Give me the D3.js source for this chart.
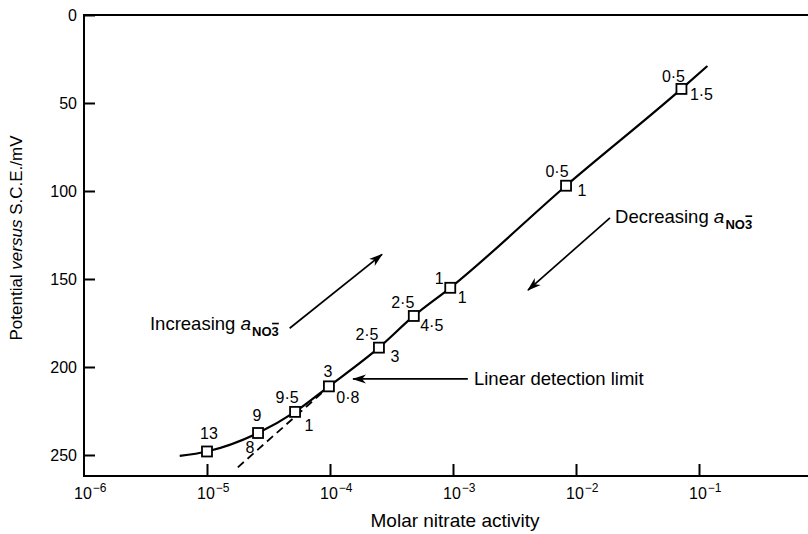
<!DOCTYPE html>
<html>
<head>
<meta charset="utf-8">
<script src="https://cdn.jsdelivr.net/npm/d3@7"></script>
<style>
  body { margin: 0; background: #fff; }
  svg { display: block; font-family: "Liberation Sans", Arial, Helvetica, sans-serif; }
</style>
</head>
<body>
<svg id="chart" width="808" height="534"></svg>
<script>
// Nitrate ISE calibration: potential vs. S.C.E. against molar nitrate activity
const activity  = [1.0e-5, 2.6e-5, 5.2e-5, 9.8e-5, 2.5e-4, 4.8e-4, 9.5e-4, 8.3e-3, 7.2e-2];
const potential = [248, 237.5, 225.5, 211, 189, 171, 155, 97, 42];
// response times: increasing activity (upper label) and decreasing activity (lower label)
const timeIncreasing = ["13", "9", "9·5", "3", "2·5", "2·5", "1", "0·5", "0·5"];
const timeDecreasing = ["", "8", "1", "0·8", "3", "4·5", "1", "1", "1·5"];
// ends of the calibration curve beyond the measured points
const curveStart = [6.0e-6, 250.5];
const curveEnd   = [0.117, 29];
// extrapolated linear (Nernstian) region, drawn dashed
const linearExtrapolation = [[1.78e-5, 257], [9.0e-5, 213.5]];

const yTicks = [0, 50, 100, 150, 200, 250];
const xTicks = [1e-6, 1e-5, 1e-4, 1e-3, 1e-2, 1e-1];
const xExponents = ["−6", "−5", "−4", "−3", "−2", "−1"];

// label nudges (px) for the upper / lower numbers beside each square
const upNudge   = [[2,-18],[-1,-18],[-8,-15],[-1,-15],[-12,-13],[-11,-14],[-11,-10],[-9,-14],[-8,-13]];
const downNudge = [[0,0],[-8,14],[14,13],[19,11],[16,9],[18,9],[12,9],[16,5],[20,5]];

const W = 808, H = 534;
const left = 84, bottom = 476, topY = 15;

const svg = d3.select("#chart");
svg.append("rect").attr("width", W).attr("height", H).attr("fill", "#fff");

const x = d3.scaleLog().domain([1e-6, 1]).range([left, 822]);
const y = d3.scaleLinear().domain([0, 250]).range([topY, 455]);

// arrowhead
svg.append("defs").append("marker")
  .attr("id", "arrow").attr("viewBox", "-13 -6 15 12")
  .attr("refX", 0).attr("refY", 0)
  .attr("markerWidth", 15).attr("markerHeight", 12)
  .attr("markerUnits", "userSpaceOnUse")
  .attr("orient", "auto")
  .append("path").attr("d", "M1,0 L-13,-4.5 L-9,0 L-13,4.5 Z").attr("fill", "#000");

// frame lines: left axis, top edge, bottom axis
const frame = svg.append("g").attr("stroke", "#000").attr("stroke-width", 2).attr("fill", "none");
frame.append("line").attr("x1", left).attr("x2", left).attr("y1", y(0) - 1).attr("y2", bottom + 1);
frame.append("line").attr("x1", left - 1).attr("x2", W).attr("y1", y(0)).attr("y2", y(0));
frame.append("line").attr("x1", left - 1).attr("x2", W).attr("y1", bottom).attr("y2", bottom);

// y axis
const yAxis = svg.append("g").attr("transform", `translate(${left},0)`)
  .call(d3.axisLeft(y).tickValues(yTicks).tickSize(-11).tickSizeOuter(0).tickPadding(7));
yAxis.select(".domain").remove();
yAxis.selectAll(".tick line").attr("stroke-width", 2);
yAxis.selectAll(".tick text").attr("font-size", 16).attr("font-family", null).attr("fill", "#000");

// x axis (log)
const xAxis = svg.append("g").attr("transform", `translate(0,${bottom})`)
  .call(d3.axisBottom(x).tickValues(xTicks.slice(1)).tickSize(-12).tickSizeOuter(0).tickFormat(() => ""));
xAxis.select(".domain").remove();
xAxis.selectAll(".tick line").attr("stroke-width", 2);

const xLabels = svg.append("g").attr("font-size", 16).attr("fill", "#000");
xTicks.forEach((t, i) => {
  const tx = xLabels.append("text").attr("x", x(t) - 10).attr("y", bottom + 23);
  tx.append("tspan").text("10");
  tx.append("tspan").attr("font-size", 12).attr("dy", -7).attr("dx", 1).text(xExponents[i]);
});

// axis titles
svg.append("text").attr("x", 455).attr("y", 527).attr("text-anchor", "middle")
  .attr("font-size", 19).text("Molar nitrate activity");
const yTitle = svg.append("text").attr("transform", "translate(22,238) rotate(-90)")
  .attr("text-anchor", "middle").attr("font-size", 17);
yTitle.append("tspan").text("Potential ");
yTitle.append("tspan").attr("font-style", "italic").text("versus");
yTitle.append("tspan").text(" S.C.E./mV");

// calibration curve
const curvePts = [curveStart, ...activity.map((a, i) => [a, potential[i]]), curveEnd];
const line = d3.line().x(d => x(d[0])).y(d => y(d[1])).curve(d3.curveMonotoneX);
svg.append("path").datum(curvePts).attr("d", line)
  .attr("fill", "none").attr("stroke", "#000").attr("stroke-width", 2.2);

// dashed extrapolation
svg.append("path").datum(linearExtrapolation).attr("d", d3.line().x(d => x(d[0])).y(d => y(d[1])))
  .attr("fill", "none").attr("stroke", "#000").attr("stroke-width", 1.8).attr("stroke-dasharray", "8,5");

// measured points
const pts = activity.map((a, i) => ({ a, e: potential[i], up: timeIncreasing[i], down: timeDecreasing[i], i }));
svg.append("g").selectAll("rect").data(pts).join("rect")
  .attr("x", d => x(d.a) - 5).attr("y", d => y(d.e) - 5)
  .attr("width", 10).attr("height", 10)
  .attr("fill", "#fff").attr("stroke", "#000").attr("stroke-width", 1.8);

const lab = svg.append("g").attr("font-size", 16).attr("fill", "#000").attr("text-anchor", "middle");
lab.selectAll("text.up").data(pts).join("text").attr("class", "up")
  .attr("x", d => x(d.a) + upNudge[d.i][0]).attr("y", d => y(d.e) + upNudge[d.i][1])
  .attr("dy", "0.36em").text(d => d.up);
lab.selectAll("text.down").data(pts.filter(d => d.down)).join("text").attr("class", "down")
  .attr("x", d => x(d.a) + downNudge[d.i][0]).attr("y", d => y(d.e) + downNudge[d.i][1])
  .attr("dy", "0.36em").text(d => d.down);

// annotations
function arrow(from, to) {
  svg.append("line")
    .attr("x1", x(from[0])).attr("y1", y(from[1]))
    .attr("x2", x(to[0])).attr("y2", y(to[1]))
    .attr("stroke", "#000").attr("stroke-width", 1.7)
    .attr("marker-end", "url(#arrow)");
}
// "<word> a_NO3^-": the charge bar sits over the subscript 3
function activityLabel(word, at) {
  const t = svg.append("text").attr("x", x(at[0])).attr("y", y(at[1])).attr("font-size", 18.5);
  t.append("tspan").text(word + " ");
  t.append("tspan").attr("font-style", "italic").attr("font-size", 19).text("a");
  t.append("tspan").attr("font-size", 13).attr("font-weight", "bold").attr("dy", 6).attr("dx", 1).text("NO");
  t.append("tspan").attr("font-size", 13).attr("font-weight", "bold").text("3");
  const node = t.node();
  const box = node.getExtentOfChar(node.getNumberOfChars() - 1);
  svg.append("line")
    .attr("x1", box.x + 0.5).attr("x2", box.x + box.width)
    .attr("y1", box.y - 0.5).attr("y2", box.y - 0.5)
    .attr("stroke", "#000").attr("stroke-width", 1.6);
}

arrow([4.7e-5, 178], [2.65e-4, 136]);
activityLabel("Increasing", [3.44e-6, 179]);

arrow([1.89e-2, 115.3], [4.07e-3, 156.3]);
activityLabel("Decreasing", [2.08e-2, 118]);

arrow([1.32e-3, 206.8], [1.54e-4, 206.8]);
svg.append("text").attr("x", x(1.48e-3)).attr("y", y(210.5)).attr("font-size", 18.5)
  .text("Linear detection limit");
</script>
</body>
</html>
